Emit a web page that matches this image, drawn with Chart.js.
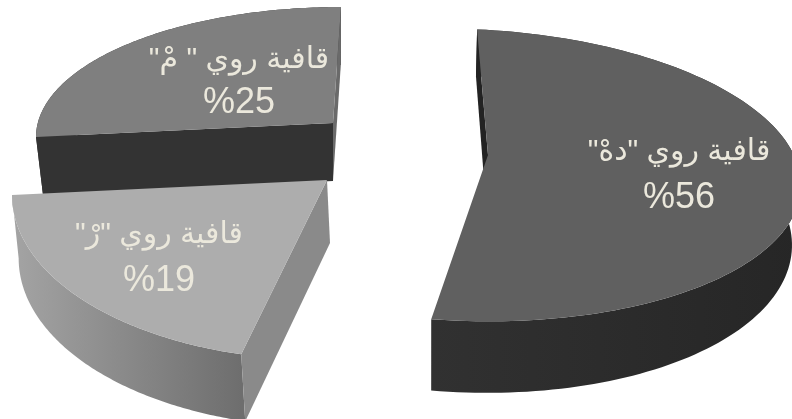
<!DOCTYPE html>
<html lang="ar">
<head>
<meta charset="utf-8">
<title>قافية روي</title>
<script src="https://cdn.jsdelivr.net/npm/chart.js@4/dist/chart.umd.min.js"></script>
<style>
    html, body { margin: 0; padding: 0; background: #fff; }
    canvas { display: block; }
</style>
</head>
<body>
<canvas id="rhymeChart" width="792" height="419"></canvas>
<script>
const categories = ['قافية روي "دهْ"', 'قافية روي "رْ"', 'قافية روي " مْ"'];
const shares = [56, 19, 25];
const topColors = ['#606060', '#adadad', '#7f7f7f'];

// Вид каждого сектора: смещение вершины, эллипс, толщина, цвета граней
const sliceViews = [
    {
        tip: [488, 155], oval: [466, 175, 335, 146, 0.03], arcFrom: -88.1, stretch: 0.913,
        depth: [-1.4, 57.5], taper: [-0.0243, 0.084],
        rim: ['#313131', '#262626'], startFace: '#232323', endFace: null,
        label: [679, 152, 198]
    },
    {
        tip: [327, 180], oval: [322, 195, 310, 165, 0], arcFrom: 105.1, stretch: 1.095,
        depth: [3, 63], taper: [-0.0116, 0.023],
        rim: ['#a4a4a4', '#6e6e6e'], startFace: '#8a8a8a', endFace: null,
        label: [159, 235, 281]
    },
    {
        tip: [333, 123], oval: [341, 137, 305, 130, 0], arcFrom: 180, stretch: 1,
        depth: [0, 58], taper: [-0.0236, 0],
        rim: ['#333333', '#333333'], startFace: '#333333', endFace: '#6a6a6a',
        label: [239, 60, 103]
    }
];

const paintOrder = [0, 2, 1];
const RAD = Math.PI / 180;

// Нижняя кромка: точка верхней грани, сдвинутая на толщину сектора
function sink(view, p) {
    return [
        p[0] + view.depth[0] + view.taper[0] * (p[0] - view.tip[0]),
        p[1] + view.depth[1] + view.taper[1] * (p[1] - view.tip[1])
    ];
}

function rimPoints(view, arc) {
    const { startAngle, endAngle } = arc.getProps(['startAngle', 'endAngle'], true);
    const [cx, cy, rx, ry, shear] = view.oval;
    const pts = [];
    const steps = 120;
    for (let i = 0; i <= steps; i++) {
        const angle = startAngle + (endAngle - startAngle) * i / steps;
        const phi = view.arcFrom * RAD + view.stretch * (angle - startAngle);
        const dx = rx * Math.cos(phi);
        pts.push([cx + dx, cy + ry * Math.sin(phi) + shear * dx]);
    }
    return pts;
}

function fillPath(ctx, pts, fill) {
    ctx.beginPath();
    pts.forEach((p, i) => i ? ctx.lineTo(p[0], p[1]) : ctx.moveTo(p[0], p[1]));
    ctx.closePath();
    ctx.fillStyle = fill;
    ctx.fill();
}

function cutFace(view, corner) {
    return [view.tip, corner, sink(view, corner), sink(view, view.tip)];
}

const tiltedPie = {
    id: 'tiltedPie',
    beforeDatasetsDraw(chart) {
        const ctx = chart.ctx;
        const arcs = chart.getDatasetMeta(0).data;

        paintOrder.forEach(i => {
            const view = sliceViews[i];
            const rim = rimPoints(view, arcs[i]);
            const bottom = rim.map(p => sink(view, p));
            const xs = rim.map(p => p[0]);

            const shade = ctx.createLinearGradient(Math.min(...xs), 0, Math.max(...xs), 0);
            shade.addColorStop(0, view.rim[0]);
            shade.addColorStop(1, view.rim[1]);
            fillPath(ctx, rim.concat(bottom.slice().reverse()), shade);

            if (view.startFace) fillPath(ctx, cutFace(view, rim[0]), view.startFace);
            if (view.endFace) fillPath(ctx, cutFace(view, rim[rim.length - 1]), view.endFace);

            fillPath(ctx, [view.tip].concat(rim), topColors[i]);
        });

        // Подписи поверх граней
        ctx.save();
        ctx.textAlign = 'center';
        ctx.textBaseline = 'middle';
        ctx.fillStyle = '#ebe8dc';
        paintOrder.forEach(i => {
            const [x, y1, y2] = sliceViews[i].label;
            ctx.direction = 'rtl';
            ctx.font = '30px "Liberation Sans", "DejaVu Sans", sans-serif';
            ctx.fillText(categories[i], x, y1);
            ctx.direction = 'ltr';
            ctx.font = '36px "Liberation Sans", "DejaVu Sans", sans-serif';
            ctx.fillText('%' + shares[i], x, y2);
        });
        ctx.restore();

        return false;
    }
};

const rhymeChart = new Chart(document.getElementById('rhymeChart').getContext('2d'), {
    type: 'pie',
    data: {
        labels: categories,
        datasets: [{
            data: shares,
            backgroundColor: topColors,
            borderWidth: 0
        }]
    },
    options: {
        responsive: false,
        animation: false,
        plugins: {
            legend: { display: false },
            tooltip: { enabled: false }
        }
    },
    plugins: [tiltedPie]
});
</script>
</body>
</html>
